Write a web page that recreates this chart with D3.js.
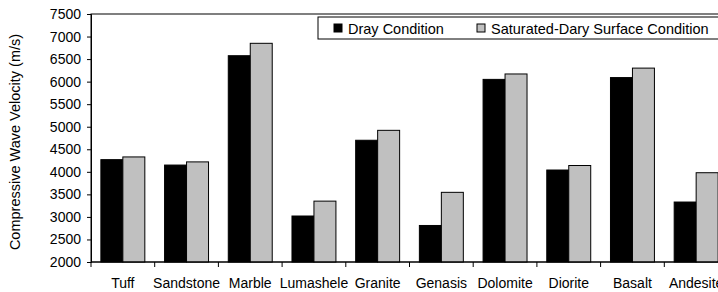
<!DOCTYPE html>
<html>
<head>
<meta charset="utf-8">
<script src="https://cdn.jsdelivr.net/npm/d3@7"></script>
<style>
  body { margin: 0; background: #fff; }
  text { font-family: "Liberation Sans", Arial, sans-serif; fill: #000; }
</style>
</head>
<body>
<div id="chart"></div>
<script>
// Rock types and wave velocities (m/s)
const categories = ['Tuff', 'Sandstone', 'Marble', 'Lumashele', 'Granite',
  'Genasis', 'Dolomite', 'Diorite', 'Basalt', 'Andesite'];
const dryValues = [4270, 4150, 6575, 3020, 4700, 2810, 6050, 4040, 6090, 3330];
const satValues = [4330, 4220, 6850, 3350, 4920, 3545, 6170, 4140, 6300, 3980];
const seriesNames = ['Dray Condition', 'Saturated-Dary Surface Condition'];
const seriesColors = ['#000000', '#c0c0c0'];
const yTicks = [2000, 2500, 3000, 3500, 4000, 4500, 5000, 5500, 6000, 6500, 7000, 7500];

const width = 718, height = 292;
const margin = { top: 14, left: 91, bottom: 30 };
const plotW = 637; // runs past the right edge of the window
const plotH = height - margin.top - margin.bottom;

const svg = d3.select('#chart').append('svg')
  .attr('width', width)
  .attr('height', height);

const g = svg.append('g')
  .attr('transform', `translate(${margin.left},${margin.top})`);

const x = d3.scaleBand().domain(categories).range([0, plotW]).paddingInner(0.31).paddingOuter(0.155);
const xs = d3.scaleBand().domain([0, 1]).range([0, x.bandwidth()]);
const y = d3.scaleLinear().domain([2000, 7500]).range([plotH, 0]);

// plot frame
g.append('rect')
  .attr('width', plotW).attr('height', plotH)
  .attr('fill', 'none').attr('stroke', '#000').attr('stroke-width', 1);

// bars
const rows = categories.map((c, i) => ({ cat: c, vals: [dryValues[i], satValues[i]] }));
const groups = g.selectAll('.grp').data(rows).enter().append('g')
  .attr('transform', d => `translate(${x(d.cat)},0)`);

groups.selectAll('rect').data(d => d.vals).enter().append('rect')
  .attr('x', (d, i) => xs(i))
  .attr('y', d => y(d))
  .attr('width', xs.bandwidth())
  .attr('height', d => plotH - y(d))
  .attr('fill', (d, i) => seriesColors[i])
  .attr('stroke', '#000')
  .attr('stroke-width', 1);

// y axis
const yAxis = g.append('g')
  .call(d3.axisLeft(y).tickValues(yTicks).tickSize(4).tickPadding(6).tickFormat(d3.format('d')));
yAxis.select('.domain').attr('stroke', '#000');
yAxis.selectAll('text').style('font-size', '14px');

// x axis: ticks at band boundaries
const xAxis = g.append('g').attr('transform', `translate(0,${plotH})`);
xAxis.append('line').attr('x1', 0).attr('x2', plotW).attr('stroke', '#000');
const step = x.step();
xAxis.selectAll('.xt').data(d3.range(categories.length + 1)).enter().append('line')
  .attr('x1', d => d * step).attr('x2', d => d * step)
  .attr('y1', 0).attr('y2', 5).attr('stroke', '#000');
xAxis.selectAll('.xl').data(categories).enter().append('text')
  .attr('x', d => x(d) + x.bandwidth() / 2)
  .attr('y', 26)
  .attr('text-anchor', 'middle')
  .style('font-size', '14px')
  .text(d => d);

// y title
svg.append('text')
  .attr('transform', `translate(20,${margin.top + plotH / 2 + 4}) rotate(-90)`)
  .attr('text-anchor', 'middle')
  .style('font-size', '14.5px')
  .text('Compressive Wave Velocity (m/s)');

// legend
const lg = svg.append('g').attr('transform', 'translate(318,17)');
lg.append('rect').attr('width', 420).attr('height', 22)
  .attr('fill', '#fff').attr('stroke', '#000');
const legX = [16, 159];
seriesNames.forEach((name, i) => {
  lg.append('rect').attr('x', legX[i]).attr('y', 7).attr('width', 8).attr('height', 8)
    .attr('fill', seriesColors[i]).attr('stroke', '#000');
  lg.append('text').attr('x', legX[i] + 14).attr('y', 16.5)
    .style('font-size', '14.5px').text(name);
});
</script>
</body>
</html>
